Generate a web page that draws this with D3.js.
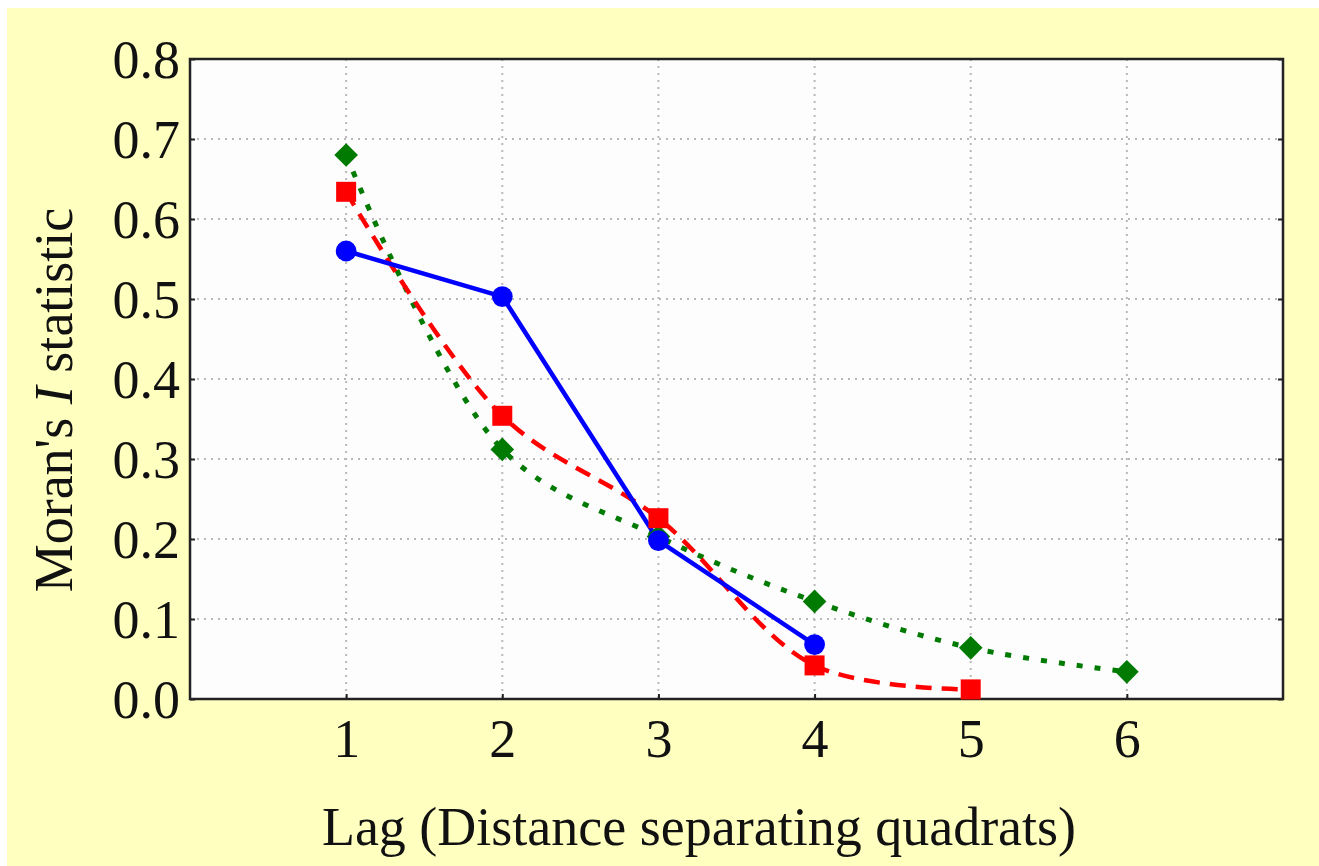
<!DOCTYPE html>
<html>
<head>
<meta charset="utf-8">
<script src="https://cdn.jsdelivr.net/npm/d3@7"></script>
<style>
  html, body { margin: 0; padding: 0; background: #fff; }
  #chart { width: 1319px; height: 866px; }
  text { font-family: "Liberation Serif", "DejaVu Serif", serif; fill: #111; }
</style>
</head>
<body>
<div id="chart"></div>
<script>
const lags = [1, 2, 3, 4, 5, 6];
const yTicks = [0, 0.1, 0.2, 0.3, 0.4, 0.5, 0.6, 0.7, 0.8];

const blueLags = [1, 2, 3, 4];
const blueValues = [0.560, 0.503, 0.198, 0.068];

const redLags = [1, 2, 3, 4, 5];
const redValues = [0.634, 0.354, 0.226, 0.042, 0.012];

const greenLags = [1, 2, 3, 4, 5, 6];
const greenValues = [0.680, 0.312, 0.203, 0.122, 0.064, 0.034];

(function () {
  const W = 1319, H = 866;
  const margin = { top: 59, right: 36, bottom: 167, left: 190 };
  const innerW = W - margin.left - margin.right;
  const innerH = H - margin.top - margin.bottom;

  const svg = d3.select("#chart").append("svg")
    .attr("width", W).attr("height", H);

  svg.append("rect")
    .attr("x", 7).attr("y", 8)
    .attr("width", W - 7).attr("height", H - 8)
    .attr("fill", "#ffffc0");

  const g = svg.append("g").attr("transform", `translate(${margin.left},${margin.top})`);

  const x = d3.scaleLinear().domain([0, 7]).range([0, innerW]);
  const y = d3.scaleLinear().domain([0, 0.8]).range([innerH, 0]);

  g.append("rect")
    .attr("width", innerW).attr("height", innerH)
    .attr("fill", "#fdfdfd");

  // grid
  g.append("g").selectAll("line")
    .data(yTicks.slice(1, -1))
    .enter().append("line")
    .attr("x1", 0).attr("x2", innerW)
    .attr("y1", d => y(d)).attr("y2", d => y(d))
    .attr("stroke", "#b8b8b8").attr("stroke-width", 2)
    .attr("stroke-dasharray", "2,5");

  g.append("g").selectAll("line")
    .data(lags)
    .enter().append("line")
    .attr("y1", 0).attr("y2", innerH)
    .attr("x1", d => x(d)).attr("x2", d => x(d))
    .attr("stroke", "#b8b8b8").attr("stroke-width", 2)
    .attr("stroke-dasharray", "2,5");

  // axes
  const yAxis = g.append("g")
    .call(d3.axisLeft(y).tickValues(yTicks).tickFormat(d3.format(".1f")).tickSizeInner(-5).tickSizeOuter(0).tickPadding(10));
  const yAxisR = g.append("g").attr("transform", `translate(${innerW},0)`)
    .call(d3.axisRight(y).tickValues(yTicks).tickFormat("").tickSizeInner(-5).tickSizeOuter(0));
  const xAxis = g.append("g").attr("transform", `translate(0,${innerH})`)
    .call(d3.axisBottom(x).tickValues(lags).tickFormat(d3.format("d")).tickSizeInner(-5).tickSizeOuter(0).tickPadding(22));

  [yAxis, yAxisR, xAxis].forEach(a => {
    a.select(".domain").remove();
    a.selectAll("line").attr("stroke", "#222").attr("stroke-width", 2);
    a.selectAll("text").attr("font-size", 54).attr("fill", "#111")
      .attr("font-family", "Liberation Serif, serif");
  });
  yAxis.selectAll("text").attr("dy", "0.34em");
  xAxis.selectAll("text").attr("dy", "0.66em");

  g.append("rect")
    .attr("width", innerW).attr("height", innerH)
    .attr("fill", "none").attr("stroke", "#222").attr("stroke-width", 2.5);

  // series
  const series = [
    { xs: blueLags, vs: blueValues, color: "#0000ff", dash: null, width: 4.5, curve: d3.curveLinear, shape: "circle" },
    { xs: redLags, vs: redValues, color: "#ff0000", dash: "16,10", width: 4.5, curve: d3.curveCatmullRom, shape: "square" },
    { xs: greenLags, vs: greenValues, color: "#007a00", dash: "6,12", width: 5, curve: d3.curveCatmullRom, shape: "diamond" }
  ];

  const drawOrder = [series[2], series[1], series[0]];
  drawOrder.forEach(s => {
    const pts = s.xs.map((l, i) => ({ lag: l, v: s.vs[i] }));
    const line = d3.line().x(d => x(d.lag)).y(d => y(d.v)).curve(s.curve);
    g.append("path").datum(pts)
      .attr("fill", "none").attr("stroke", s.color)
      .attr("stroke-width", s.width)
      .attr("stroke-dasharray", s.dash)
      .attr("d", line);
  });

  const symbols = {
    circle: d3.symbol().type(d3.symbolCircle).size(340),
    square: d3.symbol().type(d3.symbolSquare).size(400),
    diamond: d3.symbol().type(d3.symbolSquare).size(280)
  };
  drawOrder.forEach(s => {
    const pts = s.xs.map((l, i) => ({ lag: l, v: s.vs[i] }));
    g.append("g").selectAll("path")
      .data(pts).enter().append("path")
      .attr("transform", d => `translate(${x(d.lag)},${y(d.v)})` + (s.shape === "diamond" ? " rotate(45)" : ""))
      .attr("d", symbols[s.shape])
      .attr("fill", s.color);
  });

  // titles
  svg.append("text")
    .attr("x", 699).attr("y", 845)
    .attr("text-anchor", "middle")
    .attr("font-size", 54)
    .text("Lag (Distance separating quadrats)");

  const yt = svg.append("text")
    .attr("transform", `translate(72,400) rotate(-90)`)
    .attr("text-anchor", "middle")
    .attr("font-size", 54);
  yt.append("tspan").text("Moran's ");
  yt.append("tspan").attr("font-style", "italic").text("I");
  yt.append("tspan").text(" statistic");
})();
</script>
</body>
</html>
